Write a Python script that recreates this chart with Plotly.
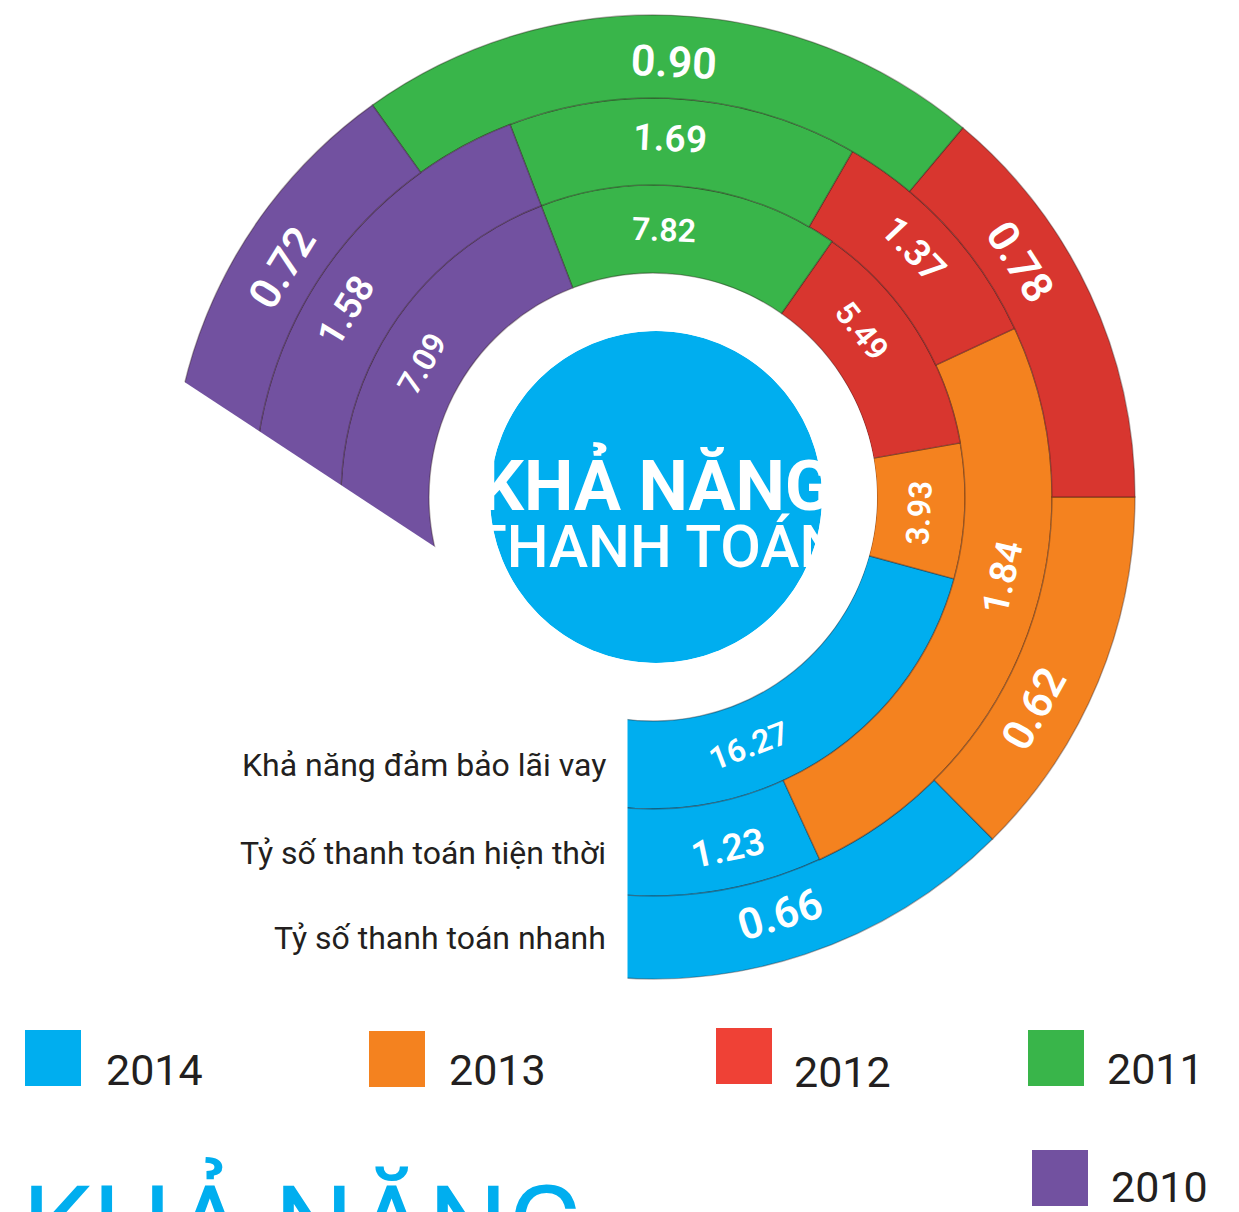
import numpy as np
import plotly.graph_objects as go

# ---------------- data ----------------
years = ["2014", "2013", "2012", "2011", "2010"]
metrics = ["Khả năng đảm bảo lãi vay", "Tỷ số thanh toán hiện thời", "Tỷ số thanh toán nhanh"]
interest_coverage = [16.27, 3.93, 5.49, 7.82, 7.09]
current_ratio = [1.23, 1.84, 1.37, 1.69, 1.58]
quick_ratio = [0.66, 0.62, 0.78, 0.90, 0.72]

# angular length (degrees) of each year's arc as drawn in the picture
arc_interest = [82.8, 25.2, 45.0, 56.0, 84.0]
arc_current = [32.7, 90.3, 35.0, 51.0, 84.0]
arc_quick = [52.8, 45.2, 50.0, 75.6, 69.4]

# ---------------- style / layout ----------------
W, H = 1239, 1212
OFF = 8                      # page offset of the plot div (body margin)
CX, CY = 653, 497            # centre of the rings (page px)
R_POLAR = 488                # px of the polar radius
RING_EDGES = [224, 312, 399, 482]
LABEL_R = [267, 359, 436]
START = -8                   # where the arcs begin (deg from 6 o'clock)
ring_colors = ["#00AEEF", "#F4821F", "#D8362F", "#39B54A", "#7251A0"]
legend_colors = ["#00AEEF", "#F4821F", "#EF4136", "#39B54A", "#7251A0"]
value_font_sizes = [32, 37, 43]
label_theta = [
    [21, 86.5, 128.5, 177.7, 240],
    [12, 77, 133.5, 177.3, 238.7],
    [17, 61, 122.6, 177.2, 238.2],
]
TEXT_DARK = "#231F20"
FONT = "Roboto"

rings_values = [interest_coverage, current_ratio, quick_ratio]
rings_arcs = [arc_interest, arc_current, arc_quick]

fig = go.Figure()

# ---------------- ring segments (barpolar) ----------------
starts = []
for arcs in rings_arcs:
    cum = np.concatenate([[START], START + np.cumsum(arcs)[:-1]])
    starts.append(cum)

for j, yr in enumerate(years):
    thetas, widths, rs, bases = [], [], [], []
    for i in range(3):
        a0 = starts[i][j]
        span = rings_arcs[i][j]
        thetas.append(a0 + span / 2)
        widths.append(span)
        bases.append(RING_EDGES[i])
        rs.append(RING_EDGES[i + 1] - RING_EDGES[i])
    fig.add_trace(go.Barpolar(
        r=rs, base=bases, theta=thetas, width=widths,
        marker=dict(color=ring_colors[j], line=dict(color="rgba(40,20,20,0.35)", width=1.4)),
        name=yr, showlegend=False, hoverinfo="skip",
    ))

# ---------------- centre title (cartesian overlay in page px units) ----------------
fig.add_trace(go.Scatter(
    x=[656], y=[492], mode="text", text=["KHẢ NĂNG"],
    textfont=dict(family=FONT, size=70, color="white", weight=700),
    textposition="middle center", showlegend=False, hoverinfo="skip"))
fig.add_trace(go.Scatter(
    x=[656], y=[552], mode="text", text=["THANH TOÁN"],
    textfont=dict(family=FONT, size=59, color="white", weight=500),
    textposition="middle center", showlegend=False, hoverinfo="skip"))

shapes = []
# blue disc
shapes.append(dict(type="circle", xref="x", yref="y", x0=490, y0=331, x1=822, y1=663,
                   fillcolor="#00AEEF", line=dict(width=0), layer="below"))
# white annulus to clip the title to the disc
ang = np.linspace(0, 2 * np.pi, 181)
def ring_path(cx, cy, r):
    pts = [f"{cx + r*np.cos(a):.2f},{cy + r*np.sin(a):.2f}" for a in ang]
    return "M" + " L".join(pts) + " Z"
shapes.append(dict(type="path", xref="x", yref="y",
                   path=ring_path(656, 497, 221) + " " + ring_path(656, 497, 166),
                   fillcolor="white", fillrule="evenodd", line=dict(width=0), layer="above"))
# straight cuts at both ends of the rings
shapes.append(dict(type="rect", xref="x", yref="y", x0=540, x1=627.5, y0=700, y1=1000,
                   fillcolor="white", line=dict(width=0), layer="above"))
shapes.append(dict(type="path", xref="x", yref="y",
                   path="M140,352.7 L480,576.6 L480,720 L90,720 L90,352.7 Z",
                   fillcolor="white", line=dict(width=0), layer="above"))

annotations = []
# value labels along the arcs
for i in range(3):
    for j in range(5):
        t = label_theta[i][j]
        a = np.radians(t - 90)
        x = CX + LABEL_R[i] * np.cos(a)
        y = CY - LABEL_R[i] * np.sin(a)
        tang = -t if t <= 90 else 180 - t
        annotations.append(dict(
            x=x, y=y, xref="x", yref="y", text=f"{rings_values[i][j]:.2f}",
            showarrow=False, textangle=tang, xanchor="center", yanchor="middle",
            font=dict(family=FONT, size=value_font_sizes[i], color="white", weight=600)))

# metric names
for i, m in enumerate(metrics):
    rmid = (RING_EDGES[i] + RING_EDGES[i + 1]) / 2
    annotations.append(dict(
        x=608, y=CY + rmid, xref="x", yref="y", text=m, showarrow=False,
        xanchor="right", yanchor="middle",
        font=dict(family=FONT, size=32, color=TEXT_DARK)))

# custom legend
legend_boxes = [(25, 1030), (369, 1031), (716, 1028), (1028, 1030), (1032, 1150)]
legend_text_x = [104, 447, 792, 1105, 1109]
legend_text_y = [1070, 1070, 1072, 1069, 1187]
for j, yr in enumerate(years):
    x0, y0 = legend_boxes[j]
    shapes.append(dict(type="rect", xref="x", yref="y", x0=x0, y0=y0, x1=x0 + 56, y1=y0 + 56,
                       fillcolor=legend_colors[j], line=dict(width=0), layer="above"))
    annotations.append(dict(
        x=legend_text_x[j], y=legend_text_y[j], xref="x", yref="y", text=yr,
        showarrow=False, xanchor="left", yanchor="middle",
        font=dict(family=FONT, size=43, color=TEXT_DARK)))

# big heading cut at the bottom
annotations.append(dict(
    x=303, y=1155, xref="x", yref="y", text="KHẢ NĂNG", showarrow=False,
    xanchor="center", yanchor="top",
    font=dict(family=FONT, size=112, color="#00AEEF")))

fig.update_layout(
    width=W, height=H,
    margin=dict(l=0, r=0, t=0, b=0),
    paper_bgcolor="white", plot_bgcolor="rgba(0,0,0,0)",
    showlegend=False,
    xaxis=dict(range=[OFF, W + OFF], visible=False, domain=[0, 1], fixedrange=True),
    yaxis=dict(range=[H + OFF, OFF], visible=False, domain=[0, 1], fixedrange=True),
    polar=dict(
        domain=dict(x=[(CX - OFF - R_POLAR) / W, (CX - OFF + R_POLAR) / W],
                    y=[(H - CY + OFF - R_POLAR) / H, (H - CY + OFF + R_POLAR) / H]),
        bgcolor="rgba(0,0,0,0)",
        barmode="overlay",
        radialaxis=dict(range=[0, R_POLAR], visible=False),
        angularaxis=dict(visible=False, direction="counterclockwise", rotation=-90),
    ),
    shapes=shapes,
    annotations=annotations,
)

fig.write_html("out.html")
